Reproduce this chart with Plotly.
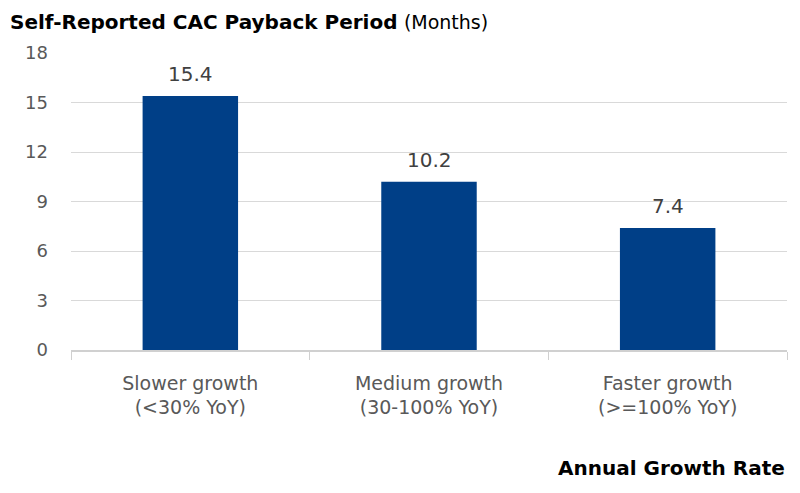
import plotly.graph_objects as go

categories = ["Slower growth<br>(<30% YoY)", "Medium growth<br>(30-100% YoY)", "Faster growth<br>(>=100% YoY)"]
values = [15.4, 10.2, 7.4]
value_labels = ["15.4", "10.2", "7.4"]
y_ticks = [0, 3, 6, 9, 12, 15, 18]

LABEL_FONT = "DejaVu Sans"

fig = go.Figure()
fig.add_trace(go.Bar(
    x=categories, y=values, width=0.4,
    marker=dict(color="#003f87", line=dict(width=0)),
    hoverinfo="skip",
))

# value labels as annotations above each bar
annotations = [
    dict(x=c, y=v, text=t, xref="x", yref="y", yshift=22, yanchor="middle",
         showarrow=False, font=dict(family=LABEL_FONT, size=20, color="#404040"))
    for c, v, t in zip(categories, values, value_labels)
]

annotations += [
    dict(text="<b>Self-Reported CAC Payback Period</b> <span style='font-size:19px'>(Months)</span>",
         xref="paper", yref="paper",
         x=-63/716, y=1 + 31/297, xanchor="left", yanchor="middle", showarrow=False,
         font=dict(family="DejaVu Sans", size=20, color="#000000")),
    dict(text="<b>Annual Growth Rate</b>", xref="paper", yref="paper",
         x=1, y=-118/297, xanchor="right", yanchor="middle", showarrow=False,
         font=dict(family="DejaVu Sans", size=20, color="#000000")),
]

# page has an 8px body margin, so figure is 8px smaller and offset
fig.update_layout(
    width=792, height=485,
    margin=dict(l=63, r=13, t=45, b=143),
    paper_bgcolor="white", plot_bgcolor="white",
    showlegend=False,
    font=dict(family=LABEL_FONT, color="#595959"),
    xaxis=dict(
        showgrid=False, showline=True, linecolor="#d0d0d0", linewidth=1.5,
        ticks="outside", tickson="boundaries", ticklen=8, tickcolor="#d0d0d0",
        tickfont=dict(family=LABEL_FONT, size=19, color="#595959"),
        ticklabelstandoff=15,
    ),
    yaxis=dict(
        range=[0, 18], tickvals=y_ticks, showline=False, zeroline=False,
        showgrid=True, gridcolor="#d9d9d9", gridwidth=1,
        tickfont=dict(family=LABEL_FONT, size=18, color="#595959"),
        ticklabelstandoff=22,
    ),
    annotations=annotations,
)

fig.write_html("out.html")
